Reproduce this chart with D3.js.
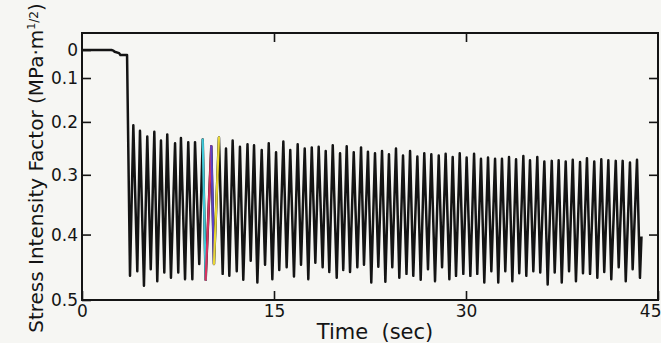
<!DOCTYPE html>
<html>
<head>
<meta charset="utf-8">
<script src="https://cdn.jsdelivr.net/npm/d3@7"></script>
<style>
  html, body { margin: 0; padding: 0; background: #f6f6f3; }
  svg { display: block; }
</style>
</head>
<body>
<svg id="chart" width="661" height="343"></svg>
<script>
// time (sec) of each turning point of the trace
const timeSec = [
  0, 2.3, 2.45, 2.55, 2.9, 3.0, 3.52,
  3.75, 4.01, 4.32, 4.53, 4.84, 5.10, 5.37, 5.65, 5.88, 6.17,
  6.43, 6.66, 6.95, 7.27, 7.52, 7.73, 8.05, 8.30, 8.62, 8.83,
  9.16, 9.43, 9.66, 10.10, 10.31, 10.70, 10.99, 11.25, 11.51, 11.77,
  12.09, 12.34, 12.60, 12.93, 13.18, 13.44, 13.70, 14.04, 14.30, 14.59,
  14.87, 15.16, 15.41, 15.73, 15.99, 16.27, 16.56, 16.85, 17.11, 17.40,
  17.68, 17.95, 18.23, 18.49, 18.80, 19.04, 19.32, 19.59, 19.90, 20.16,
  20.41, 20.68, 20.94, 21.23, 21.51, 21.80, 22.03, 22.34, 22.60, 22.89,
  23.15, 23.44, 23.70, 23.98, 24.24, 24.53, 24.79, 25.08, 25.35, 25.63,
  25.88, 26.20, 26.46, 26.74, 27.03, 27.29, 27.58, 27.87, 28.13, 28.41,
  28.70, 28.96, 29.22, 29.51, 29.79, 30.05, 30.34, 30.63, 30.88, 31.17,
  31.43, 31.72, 31.98, 32.27, 32.52, 32.81, 33.07, 33.36, 33.62, 33.91,
  34.16, 34.48, 34.71, 35.00, 35.26, 35.57, 35.80, 36.12, 36.38, 36.70,
  36.93, 37.24, 37.48, 37.79, 38.05, 38.34, 38.59, 38.91, 39.14, 39.45,
  39.69, 40.02, 40.26, 40.57, 40.80, 41.12, 41.35, 41.70, 41.93, 42.24,
  42.48, 42.81, 43.02, 43.36, 43.59, 43.71
];

// stress intensity factor (MPa·m^1/2) at those points
const stressK = [
  0, 0, 0.006, 0.013, 0.020, 0.028, 0.028,
  0.464, 0.207, 0.457, 0.218, 0.479, 0.229, 0.454, 0.220, 0.472, 0.237,
  0.459, 0.225, 0.467, 0.242, 0.459, 0.232, 0.469, 0.240, 0.469, 0.240,
  0.446, 0.235, 0.470, 0.248, 0.446, 0.231, 0.461, 0.252, 0.464, 0.237,
  0.457, 0.249, 0.470, 0.244, 0.441, 0.246, 0.474, 0.255, 0.447, 0.242,
  0.469, 0.259, 0.455, 0.239, 0.451, 0.255, 0.465, 0.244, 0.447, 0.252,
  0.469, 0.250, 0.444, 0.249, 0.451, 0.257, 0.458, 0.246, 0.467, 0.261,
  0.455, 0.248, 0.458, 0.259, 0.451, 0.250, 0.447, 0.258, 0.474, 0.261,
  0.450, 0.257, 0.473, 0.263, 0.451, 0.252, 0.467, 0.265, 0.461, 0.257,
  0.464, 0.267, 0.470, 0.261, 0.454, 0.263, 0.472, 0.265, 0.451, 0.262,
  0.469, 0.268, 0.464, 0.261, 0.461, 0.269, 0.464, 0.262, 0.461, 0.271,
  0.474, 0.269, 0.457, 0.271, 0.474, 0.271, 0.457, 0.268, 0.472, 0.272,
  0.460, 0.266, 0.464, 0.274, 0.457, 0.268, 0.459, 0.276, 0.477, 0.275,
  0.459, 0.274, 0.474, 0.276, 0.457, 0.273, 0.472, 0.277, 0.460, 0.270,
  0.461, 0.276, 0.467, 0.272, 0.458, 0.274, 0.469, 0.275, 0.451, 0.275,
  0.472, 0.278, 0.454, 0.273, 0.467, 0.403
];

const xTicks = [0, 15, 30, 45];
const yTicks = [0, 0.1, 0.2, 0.3, 0.4, 0.5];
const xTitle = 'Time  (sec)';
const yTitle = 'Stress Intensity Factor (MPa·m';

// coloured strokes in the scan around t = 10 s (segment start times)
const tintStarts = [9.43, 9.66, 10.10, 10.31];
const tintColors = ['#3fc9d8', '#d8325f', '#5b42c4', '#e8d634'];

const margin = { top: 33, right: 3, bottom: 43, left: 82 };
const width = 661, height = 343;
const font = '"DejaVu Sans", sans-serif';
const ink = '#141414';

const svg = d3.select('#chart');

svg.append('rect')
  .attr('width', width)
  .attr('height', height)
  .attr('fill', '#f6f6f3');

const x = d3.scaleLinear()
  .domain([0, 45])
  .range([margin.left, width - margin.right]);

// the printed ordinate is stretched towards the bottom, a power scale fits its ticks
const y = d3.scalePow().exponent(1.36)
  .domain([0, 0.5])
  .range([50, height - margin.bottom]);

// frame
svg.append('rect')
  .attr('x', x(0))
  .attr('y', margin.top)
  .attr('width', x(45) - x(0))
  .attr('height', y(0.5) - margin.top)
  .attr('fill', 'none')
  .attr('stroke', ink)
  .attr('stroke-width', 2);

// axes, ticks pointing inwards
const left = svg.append('g')
  .attr('transform', `translate(${x(0)},0)`)
  .call(d3.axisLeft(y).tickValues(yTicks)
    .tickSizeInner(-9).tickSizeOuter(0).tickPadding(4)
    .tickFormat(d => d === 0 ? '0' : d3.format('.1f')(d)));

const bottom = svg.append('g')
  .attr('transform', `translate(0,${y(0.5)})`)
  .call(d3.axisBottom(x).tickValues(xTicks)
    .tickSizeInner(-9).tickSizeOuter(0).tickPadding(5)
    .tickFormat(d3.format('d')));

svg.append('g')
  .attr('transform', `translate(0,${margin.top})`)
  .call(d3.axisTop(x).tickValues([15, 30])
    .tickSizeInner(-9).tickSizeOuter(0).tickFormat(''));

svg.append('g')
  .attr('transform', `translate(${x(45)},0)`)
  .call(d3.axisRight(y).tickValues([0.1, 0.2, 0.3, 0.4])
    .tickSizeInner(-9).tickSizeOuter(0).tickFormat(''));

svg.selectAll('.domain').remove();
svg.selectAll('.tick line')
  .attr('stroke', ink)
  .attr('stroke-width', 1.6);
svg.selectAll('.tick text')
  .attr('fill', ink)
  .style('font-family', font)
  .style('font-size', '17px');

// keep "45" inside the picture
bottom.selectAll('.tick text')
  .filter(d => d === 45)
  .attr('text-anchor', 'end')
  .attr('x', 3);

// trace
const points = timeSec.map((t, i) => [t, stressK[i]]);
const line = d3.line()
  .x(d => x(d[0]))
  .y(d => y(d[1]));

svg.append('path')
  .datum(points)
  .attr('d', line)
  .attr('fill', 'none')
  .attr('stroke', ink)
  .attr('stroke-width', 2.5)
  .attr('stroke-linejoin', 'round');

tintStarts.forEach((t, k) => {
  const i = timeSec.indexOf(t);
  svg.append('path')
    .datum(points.slice(i, i + 2))
    .attr('d', line)
    .attr('fill', 'none')
    .attr('stroke', tintColors[k])
    .attr('stroke-width', 2.2)
    .attr('stroke-linecap', 'round');
});

// titles
svg.append('text')
  .attr('x', 375)
  .attr('y', 339)
  .attr('text-anchor', 'middle')
  .attr('fill', ink)
  .style('font-family', font)
  .style('font-size', '21px')
  .style('white-space', 'pre')
  .text(xTitle);

const yt = svg.append('text')
  .attr('transform', 'translate(43,168) rotate(-90)')
  .attr('text-anchor', 'middle')
  .attr('fill', ink)
  .style('font-family', font)
  .style('font-size', '20px');
yt.append('tspan').text(yTitle);
yt.append('tspan').attr('dy', -8).style('font-size', '11px').text('1');
yt.append('tspan').attr('dy', 3).style('font-size', '12px').text('/2');
yt.append('tspan').attr('dy', 5).text(')');
</script>
</body>
</html>
